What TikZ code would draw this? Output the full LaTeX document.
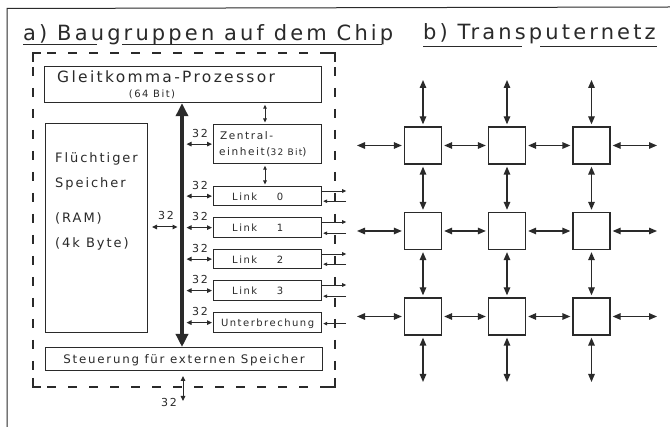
\documentclass[tikz,border=0pt]{standalone}
\usepackage{fontspec}
\setmainfont{DejaVu Sans}[LetterSpace=15]
\usetikzlibrary{arrows.meta,calc}
\definecolor{inkc}{HTML}{2A2A2A}
\newcommand\myfT{\fontsize{21}{24}\selectfont}
\newcommand\myfG{\fontsize{15.5}{18}\selectfont}
\newcommand\myfR{\fontsize{13}{15}\selectfont}
\newcommand\myfZ{\fontsize{10.5}{12}\selectfont}
\newcommand\myfL{\fontsize{10}{12}\selectfont}
\newcommand\myfS{\fontsize{11.8}{14}\selectfont}
\newcommand\myfN{\fontsize{11}{13}\selectfont}
\newcommand\myfB{\fontsize{10}{12}\selectfont}
\newcommand\myfC{\fontsize{9}{11}\selectfont}
\begin{document}
\begin{tikzpicture}[x=1pt,y=-1pt,
  box/.style={draw=inkc, line width=1.2pt, rectangle, inner sep=0pt, anchor=north west},
  gbox/.style={draw=inkc, line width=1.3pt, rectangle, inner sep=0pt, minimum width=37pt, minimum height=37pt},
  lbl/.style={inner sep=0pt, text=inkc},
  sarr/.style={draw=inkc, line width=1pt, {Triangle[length=5pt,width=4.5pt]}-{Triangle[length=5pt,width=4.5pt]}},
  tarr/.style={draw=inkc, line width=0.9pt, {Triangle[length=4pt,width=3.5pt]}-{Triangle[length=4pt,width=3.5pt]}, shorten <=1.5pt, shorten >=1.5pt},
  oarr/.style={draw=inkc, line width=0.9pt, -{Triangle[length=4pt,width=3.5pt]}},
  garr/.style={draw=inkc, line width=1.3pt, {Triangle[length=8pt,width=6.5pt]}-{Triangle[length=8pt,width=6.5pt]}, shorten >=2pt, shorten <=2pt},
  frame/.style={draw=inkc, line width=1.2pt},
  dfr/.style={draw=inkc, line width=1.2pt, dash pattern=on 9pt off 12pt, dash phase=-14pt}
]
\useasboundingbox (0,0) rectangle (670,427);
\fill[white] (0,0) rectangle (670,427);

% outer frame
\draw[draw=inkc, line width=1pt] (7,427) -- (7,8.5) -- (670,7);

% titles
\node[lbl, anchor=base west, font=\myfT] (ta) at (23,41) {a) Baugruppen auf dem Chip};
\node[lbl, anchor=base west, font=\myfT] (tb) at (423,40) {b) Transputernetz};
\draw[draw=inkc, line width=1pt] (23,45) -- (97,45) (122,45) -- (382,45);
\draw[draw=inkc, line width=1pt] (423,47) -- (522,47) (540,47) -- (657,47);

% dashed chip frame
\draw[dfr] (33,53) -- (335,53);
\draw[dfr] (33,387) -- (335,387);
\draw[dfr] (33,53) -- (33,387);
\draw[dfr] (335,53) -- (335,387);
\draw[frame] (33,62) -- (33,53) -- (41,53);
\draw[frame] (327,53) -- (335,53) -- (335,62);
\draw[frame] (33,378) -- (33,387) -- (41,387);
\draw[frame] (327,387) -- (335,387) -- (335,378);

% blocks
\node[box, minimum width=277pt, minimum height=36pt] (gk) at (44,66) {};
\node[box, minimum width=102pt, minimum height=209pt] (ram) at (45,123) {};
\node[box, minimum width=108pt, minimum height=39pt] (zen) at (213,124) {};
\node[box, minimum width=108pt, minimum height=19pt] (l0) at (213,186) {};
\node[box, minimum width=108pt, minimum height=20pt] (l1) at (213,217) {};
\node[box, minimum width=108pt, minimum height=19pt] (l2) at (213,249) {};
\node[box, minimum width=108pt, minimum height=20pt] (l3) at (213,280) {};
\node[box, minimum width=108pt, minimum height=20pt] (unt) at (213,312) {};
\node[box, minimum width=277pt, minimum height=23pt] (st) at (45,347) {};

% texts
\node[lbl, anchor=base west, font=\myfG] (tgk) at (57,83) {Gleitkomma-Prozessor};
\node[lbl, anchor=base, font=\myfB] (tgk2) at (152,97.5) {(64 Bit)};
\node[lbl, anchor=base west, font=\myfR] (tr1) at (55,163) {Flüchtiger};
\node[lbl, anchor=base west, font=\myfR] (tr2) at (55,188) {Speicher};
\node[lbl, anchor=base west, font=\myfR] (tr3) at (55,223) {(RAM)};
\node[lbl, anchor=base west, font=\myfR] (tr4) at (55,248) {(4k Byte)};
\node[lbl, anchor=base west, font=\myfZ] (tz1) at (220,140) {Zentral-};
\node[lbl, anchor=base west, font=\myfZ] (tz2) at (219,156) {einheit({\myfC 32 Bit})};
\foreach \n/\k in {l0/0,l1/1,l2/2,l3/3} {
  \node[lbl, anchor=base west, font=\myfL] (t\n) at ($(\n.west)+(19,4)$) {Link};
  \node[lbl, anchor=base, font=\myfL] (n\n) at ($(\n.west)+(67,4)$) {\k};
}
\node[lbl, anchor=base, font=\myfL] (tunt) at ($(unt.center)+(0,4)$) {Unterbrechung};
\node[lbl, anchor=base, font=\myfS] (tst) at ($(st.center)+(0,4.5)$) {Steuerung für externen Speicher};

% bus
\coordinate (busx) at (182,200);
\draw[draw=inkc, line width=4.5pt, {Triangle[length=13pt,width=12pt]}-{Triangle[length=13pt,width=12pt]}]
  (gk.south -| busx) -- (st.north -| busx);

% bus to blocks
\coordinate (busr) at (186.5,200);
\foreach \n in {zen,l0,l1,l2,l3,unt} {
  \draw[sarr] (\n.west -| busr) -- ($(\n.west)+(-1,0)$);
  \node[lbl, anchor=base, font=\myfN] (w\n) at ($(\n.west)+(-13,-7)$) {32};
}
\coordinate (raml) at (152,227);
\coordinate (ramr) at (177.5,227);
\draw[sarr] (raml) -- (ramr);
\node[lbl, anchor=base, font=\myfN] (wram) at (166,220) {32};

% small vertical arrows
\coordinate (cx) at (265,0);
\draw[tarr] (gk.south -| cx) -- (zen.north -| cx);
\draw[tarr] (zen.south -| cx) -- (l0.north -| cx);

% link ports
\foreach \n in {l0,l1,l2,l3} {
  \draw[oarr] ($(\n.north east)+(0,5)$) -- ++(24,0);
  \draw[oarr] ($(\n.south east)+(24,-5)$) -- ($(\n.south east)+(1,-5)$);
}
\draw[oarr] ($(unt.east)+(24,1)$) -- ($(unt.east)+(1,1)$);

% external memory port
\coordinate (ex1) at (183,376);
\coordinate (ex2) at (183,401);
\draw[sarr] (ex1) -- (ex2);
\node[lbl, anchor=base, font=\myfN] (wext) at (169,407) {32};

% transputer grid
\foreach \c/\x in {1/423,2/507,3/591.5} {
  \foreach \r/\y in {1/145.5,2/231,3/316.5} {
    \node[gbox] (g\r\c) at (\x,\y) {};
  }
}
\foreach \r/\y in {1/145.5,2/231,3/316.5} {
  \coordinate (gl\r) at (355,\y);
  \coordinate (gr\r) at (659,\y);
  \draw[garr] (gl\r) -- (g\r1);
  \draw[garr] (g\r1) -- (g\r2);
  \draw[garr] (g\r2) -- (g\r3);
  \draw[garr] (g\r3) -- (gr\r);
}
\foreach \c/\x in {1/423,2/507,3/591.5} {
  \coordinate (gt\c) at (\x,78);
  \coordinate (gb\c) at (\x,384);
  \draw[garr] (gt\c) -- (g1\c);
  \draw[garr] (g1\c) -- (g2\c);
  \draw[garr] (g2\c) -- (g3\c);
  \draw[garr] (g3\c) -- (gb\c);
}
\end{tikzpicture}
\end{document}
